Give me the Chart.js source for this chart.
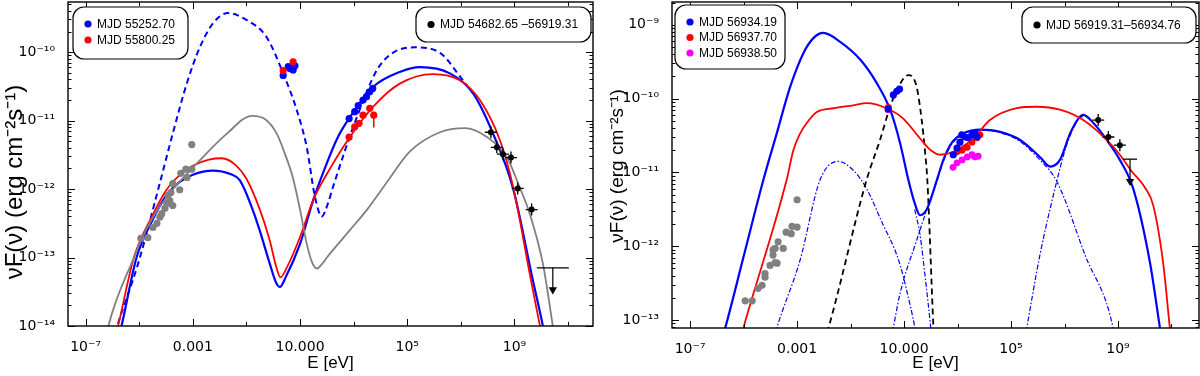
<!DOCTYPE html>
<html>
<head>
<meta charset="utf-8">
<script src="https://cdn.jsdelivr.net/npm/chart.js@4.4.1/dist/chart.umd.min.js"></script>
<style>
  body { margin: 0; background: #fff; }
  .panel { position: absolute; top: 0; width: 600px; height: 376px; }
</style>
</head>
<body>
<div class="panel" style="left:0"><canvas id="sedLeft" width="600" height="376"></canvas></div>
<div class="panel" style="left:600px"><canvas id="sedRight" width="600" height="376"></canvas></div>
<script>
// Chart defaults
Chart.defaults.font.family = "'Liberation Sans', Arial, Helvetica, sans-serif";
Chart.defaults.color = '#000';

// ---- axis ticks ----
const xTickVals = [1e-7, 1e-3, 10, 1e5, 1e9];
const xTickText = ['10⁻⁷', '0.001', '10.000', '10⁵', '10⁹'];
const yTickValsL = [1e-14, 1e-13, 1e-12, 1e-11, 1e-10];
const yTickTextL = ['10⁻¹⁴', '10⁻¹³', '10⁻¹²', '10⁻¹¹', '10⁻¹⁰'];
const yTickValsR = [1e-13, 1e-12, 1e-11, 1e-10, 1e-9];
const yTickTextR = ['10⁻¹³', '10⁻¹²', '10⁻¹¹', '10⁻¹⁰', '10⁻⁹'];

// ---- left panel: [log10 E/eV, log10 vF(v)] ----
const blueModelL = [[-5.85,-14.3],[-5.66,-14.0],[-5.1,-13.0],[-4.5,-12.45],[-4.0,-12.1],[-3.5,-11.9],[-3.0,-11.79],[-2.25,-11.73],[-1.6,-11.78],[-1.25,-11.87],[-0.76,-12.31],[-0.5,-12.61],[-0.13,-13.09],[0.1,-13.36],[0.25,-13.43],[0.45,-13.3],[1.0,-12.8],[1.5,-12.15],[2.0,-11.62],[2.4,-11.25],[2.86,-10.95],[3.72,-10.51],[4.72,-10.29],[5.47,-10.22],[6.59,-10.31],[7.45,-10.6],[8.2,-11.19],[8.94,-11.98],[9.69,-13.34],[10.06,-14.0],[10.2,-14.3]];
const redModelL = [[-6.0,-14.3],[-5.79,-14.0],[-5.2,-13.0],[-4.5,-12.38],[-4.0,-12.02],[-3.5,-11.8],[-3.0,-11.66],[-2.4,-11.57],[-1.92,-11.55],[-1.4,-11.65],[-1.0,-11.85],[-0.5,-12.3],[-0.13,-12.75],[0.1,-13.12],[0.27,-13.29],[0.5,-13.15],[1.0,-12.7],[1.5,-12.15],[2.0,-11.78],[2.86,-11.24],[3.72,-10.8],[4.72,-10.46],[5.96,-10.32],[6.96,-10.41],[7.71,-10.7],[8.46,-11.29],[8.94,-11.95],[9.6,-13.3],[9.95,-14.0],[10.1,-14.3]];
const grayModelL = [[-6.3,-14.3],[-6.15,-14.0],[-5.2,-13.0],[-4.9,-12.72],[-4.5,-12.42],[-4.0,-12.13],[-3.6,-11.94],[-2.74,-11.58],[-1.73,-11.19],[-0.8,-10.93],[-0.3,-10.98],[0.13,-11.19],[0.45,-11.5],[0.73,-11.83],[1.0,-12.3],[1.25,-12.8],[1.45,-13.07],[1.63,-13.16],[1.85,-13.08],[2.0,-13.0],[2.86,-12.6],[3.5,-12.3],[4.24,-11.9],[5.1,-11.45],[6.22,-11.17],[7.15,-11.11],[7.97,-11.24],[8.72,-11.54],[9.2,-11.98],[9.57,-12.36],[10.06,-13.09],[10.43,-14.0],[10.55,-14.3]];
const blueDashL = [[-6.0,-14.25],[-5.82,-14.0],[-5.05,-13.1],[-4.29,-12.0],[-3.75,-11.19],[-3.22,-10.45],[-2.74,-9.93],[-2.25,-9.58],[-1.69,-9.43],[-1.0,-9.53],[-0.25,-9.78],[0.37,-10.31],[0.88,-10.85],[1.25,-11.39],[1.55,-12.1],[1.81,-12.4],[2.05,-12.2],[2.22,-11.98],[3.12,-10.95],[3.87,-10.26],[4.46,-10.01],[5.28,-9.93],[6.22,-10.01],[7.07,-10.41],[7.45,-10.6]];

const grayPtsL = [[-4.94,-12.72],[-4.68,-12.71],[-4.49,-12.56],[-4.34,-12.5],[-4.23,-12.41],[-4.16,-12.36],[-4.04,-12.28],[-3.97,-12.21],[-3.86,-12.17],[-3.75,-12.24],[-3.93,-12.09],[-3.82,-12.05],[-3.75,-11.92],[-3.49,-12.01],[-3.45,-11.77],[-3.26,-11.71],[-3.22,-11.83],[-3.04,-11.71],[-3.04,-11.35]];
const bluePtsL = [[0.37,-10.34],[0.56,-10.21],[0.62,-10.24],[0.74,-10.26],[0.81,-10.2],[2.83,-10.97],[3.04,-10.87],[3.17,-10.78],[3.35,-10.7],[3.48,-10.65],[3.6,-10.58],[3.71,-10.53]];
const redPtsL = [[0.37,-10.27],[0.74,-10.14],[2.83,-11.24],[3.04,-11.09],[3.2,-11.04],[3.35,-10.92],[3.6,-10.82],[3.75,-10.92]];
const redErrL = [[3.75,-10.92],[3.75,-11.1]];
const blackPtsL = [[8.12,-11.17],[8.34,-11.39],[8.57,-11.49],[8.87,-11.54],[9.12,-11.99],[9.64,-12.3]];
const upperLimL = [[10.43,-13.15]];
const arrowL = [[10.43,-13.15],[10.43,-13.47]];

// ---- right panel ----
const blueModelR = [[-5.85,-13.3],[-5.69,-13.11],[-5.0,-12.14],[-4.26,-11.1],[-3.76,-10.47],[-3.26,-9.84],[-2.76,-9.38],[-2.39,-9.18],[-2.02,-9.11],[-1.39,-9.23],[-0.64,-9.47],[-0.02,-9.79],[0.48,-10.15],[0.85,-10.6],[1.16,-11.1],[1.4,-11.42],[1.6,-11.58],[1.85,-11.5],[2.23,-11.1],[2.47,-10.83],[2.78,-10.6],[3.22,-10.47],[3.84,-10.42],[4.59,-10.45],[5.34,-10.56],[6.08,-10.79],[6.46,-10.92],[6.83,-10.83],[7.21,-10.47],[7.52,-10.27],[7.7,-10.22],[8.08,-10.33],[8.58,-10.56],[9.07,-10.83],[9.57,-11.22],[10.2,-12.23],[10.57,-13.11],[10.65,-13.3]];
const redModelR = [[-5.15,-13.3],[-5.01,-13.11],[-3.39,-11.1],[-3.14,-10.7],[-2.9,-10.48],[-2.64,-10.33],[-2.26,-10.18],[-1.64,-10.13],[-0.9,-10.09],[-0.39,-10.06],[0.35,-10.13],[0.97,-10.27],[1.6,-10.54],[2.0,-10.7],[2.35,-10.76],[2.84,-10.72],[3.59,-10.54],[4.21,-10.29],[5.21,-10.13],[5.96,-10.11],[6.83,-10.15],[7.7,-10.29],[8.58,-10.56],[9.07,-10.76],[9.5,-10.98],[10.0,-11.2],[10.32,-11.45],[10.69,-12.23],[10.94,-13.11],[11.0,-13.3]];
const blackDashR = [[-2.0,-13.3],[-1.83,-13.11],[-0.4,-11.1],[0.1,-10.56],[0.48,-10.11],[0.79,-9.84],[1.16,-9.68],[1.47,-9.84],[1.66,-10.29],[1.79,-10.74],[1.87,-11.1],[2.1,-13.11],[2.13,-13.3]];
const synTailR = [[1.4,-11.5],[1.6,-11.85],[1.8,-12.45],[2.0,-13.11],[2.05,-13.3]];
const bumpR = [[-3.9,-13.3],[-3.76,-13.11],[-2.89,-12.19],[-2.14,-11.1],[-1.46,-10.85],[-0.9,-10.97],[-0.4,-11.22],[0.23,-11.72],[0.6,-12.0],[0.85,-12.25],[1.1,-12.6],[1.41,-13.11],[1.5,-13.3]];
const sscR = [[0.5,-13.3],[0.85,-12.64],[1.47,-11.92],[2.0,-11.35],[2.23,-11.12],[2.47,-10.85],[2.78,-10.62],[3.22,-10.48],[3.84,-10.43],[4.59,-10.46],[5.34,-10.58],[6.08,-10.83],[6.71,-11.12],[7.77,-12.12],[8.82,-13.11],[8.9,-13.3]];
const ecR = [[5.5,-13.3],[5.59,-13.11],[6.08,-12.12],[6.71,-11.12],[7.0,-10.72],[7.21,-10.5],[7.52,-10.28],[7.7,-10.23]];

const grayPtsR = [[-4.94,-12.74],[-4.68,-12.74],[-4.46,-12.57],[-4.31,-12.53],[-4.2,-12.42],[-4.2,-12.37],[-4.01,-12.26],[-3.75,-12.23],[-3.82,-12.22],[-3.9,-12.12],[-3.9,-12.05],[-3.82,-12.03],[-3.71,-11.94],[-3.52,-12.03],[-3.41,-11.81],[-3.22,-11.83],[-3.19,-11.73],[-3.0,-11.74],[-3.0,-11.37]];
const bluePtsR = [[0.41,-10.14],[0.6,-9.95],[0.73,-9.9],[0.83,-9.87],[2.84,-10.76],[2.98,-10.67],[3.09,-10.59],[3.16,-10.49],[3.28,-10.52],[3.39,-10.53],[3.54,-10.49],[3.65,-10.47],[3.73,-10.52]];
const redPtsR = [[0.41,-10.12],[2.98,-10.72],[3.17,-10.7],[3.36,-10.66],[3.54,-10.59],[3.73,-10.53],[3.84,-10.49]];
const magPtsR = [[0.4,-10.15],[2.83,-10.93],[2.98,-10.87],[3.17,-10.83],[3.36,-10.79],[3.54,-10.76],[3.65,-10.79],[3.77,-10.78]];
const blackPtsR = [[8.26,-10.29],[8.64,-10.52],[9.07,-10.63]];
const upperLimR = [[9.45,-10.82]];
const arrowR = [[9.45,-10.82],[9.45,-11.12]];

// legends
const legendLeft = [
  { x: 73, y: 7, w: 115, h: 52, rows: [['#0000ff', 'MJD 55252.70'], ['#ff0000', 'MJD 55800.25']] },
  { x: 416, y: 7, w: 175, h: 35, rows: [['#000000', 'MJD 54682.65 –56919.31']] }
];
const legendRight = [
  { x: 75, y: 5, w: 110, h: 64, rows: [['#0000ff', 'MJD 56934.19'], ['#ff0000', 'MJD 56937.70'], ['#ff00ff', 'MJD 56938.50']] },
  { x: 422, y: 7, w: 174, h: 36, rows: [['#000000', 'MJD 56919.31–56934.76']] }
];

const yTitle = 'νF(ν) (erg cm⁻²s⁻¹)';

const toXY = arr => arr.map(([e, f]) => ({ x: 10 ** e, y: 10 ** f }));

function curve(data, color, width, dash) {
  return {
    data: toXY(data), showLine: true, borderColor: color, borderWidth: width,
    borderDash: dash || [], pointRadius: 0, tension: 0.4,
    cubicInterpolationMode: 'monotone', clip: 0, order: 2
  };
}

function dots(data, color, r, style, rot) {
  return {
    data: toXY(data), backgroundColor: color, borderColor: color,
    pointRadius: r, pointHoverRadius: r, borderWidth: style ? 1.3 : 0,
    pointStyle: style || 'circle', rotation: rot || 0, order: 0
  };
}

function segment(data, color, width) {
  return { data: toXY(data), showLine: true, borderColor: color, borderWidth: width, pointRadius: 0, order: 1 };
}

// frame, inner ticks, y title and legend boxes
const sedDecor = {
  id: 'sedDecor',
  afterDraw(chart, args, o) {
    const { ctx, chartArea: a } = chart;
    const xs = chart.scales.x, ys = chart.scales.y;
    ctx.save();
    ctx.strokeStyle = '#000';
    ctx.lineWidth = 1;
    for (let p = -7; p <= 11; p += 2) {
      const px = Math.round(xs.getPixelForValue(Math.pow(10, p))) + 0.5;
      const len = (p + 7) % 4 === 0 ? 7 : 4;
      ctx.beginPath();
      ctx.moveTo(px, a.bottom); ctx.lineTo(px, a.bottom - len);
      ctx.moveTo(px, a.top); ctx.lineTo(px, a.top + len);
      ctx.stroke();
    }
    for (let d = -15; d <= -8; d++) {
      for (let k = 1; k < 10; k++) {
        const v = k * Math.pow(10, d);
        if (v < ys.min || v > ys.max) continue;
        const py = Math.round(ys.getPixelForValue(v)) + 0.5;
        const len = k === 1 ? 7 : 3.5;
        ctx.beginPath();
        ctx.moveTo(a.left, py); ctx.lineTo(a.left + len, py);
        ctx.moveTo(a.right, py); ctx.lineTo(a.right - len, py);
        ctx.stroke();
      }
    }
    ctx.lineWidth = 1.4;
    ctx.strokeRect(a.left, a.top, a.right - a.left, a.bottom - a.top);

    // y axis title
    ctx.save();
    ctx.translate(o.titleX, o.titleY);
    ctx.rotate(-Math.PI / 2);
    ctx.font = o.titleSize + "px 'Liberation Sans', Arial, sans-serif";
    ctx.fillStyle = '#000';
    ctx.textAlign = 'center';
    ctx.textBaseline = 'middle';
    ctx.fillText(yTitle, 0, 0);
    ctx.restore();

    // legend boxes
    o.boxes.forEach(b => {
      ctx.beginPath();
      ctx.roundRect(b.x, b.y, b.w, b.h, 11);
      ctx.fillStyle = '#fff';
      ctx.fill();
      ctx.lineWidth = 1.2;
      ctx.strokeStyle = '#000';
      ctx.stroke();
      b.rows.forEach(([c, t], i) => {
        const cy = b.y + (b.rows.length === 1 ? b.h / 2 : 17 + i * o.rowGap);
        ctx.beginPath();
        ctx.arc(b.x + 15, cy, 3.6, 0, Math.PI * 2);
        ctx.fillStyle = c;
        ctx.fill();
        ctx.fillStyle = '#000';
        ctx.font = "12px 'Liberation Sans', Arial, sans-serif";
        ctx.textBaseline = 'middle';
        ctx.textAlign = 'left';
        ctx.fillText(t, b.x + 24, cy + 0.5);
      });
    });
    ctx.restore();
  }
};

function options(p) {
  const tickFont = { family: "'DejaVu Sans', sans-serif", size: 14 };
  return {
    responsive: false,
    animation: false,
    events: [],
    layout: { autoPadding: false, padding: { top: 2, right: p.padRight, left: 0, bottom: 0 } },
    plugins: {
      legend: { display: false },
      tooltip: { enabled: false },
      sedDecor: { boxes: p.boxes, titleX: p.titleX, titleY: p.titleY, titleSize: p.titleSize, rowGap: p.rowGap }
    },
    scales: {
      x: {
        type: 'logarithmic', min: p.xMin, max: p.xMax,
        grid: { display: false }, border: { display: false },
        afterBuildTicks: s => { s.ticks = xTickVals.map(v => ({ value: v })); },
        afterFit: s => { s.height = p.xAxisH; s.paddingLeft = 0; s.paddingRight = 0; },
        ticks: { font: tickFont, padding: 5, maxRotation: 0, autoSkip: false, callback: (v, i) => xTickText[i] },
        title: { display: true, text: 'E [eV]', font: { size: 17 }, padding: { top: 0, bottom: 2 } }
      },
      y: {
        type: 'logarithmic', min: p.yMin, max: p.yMax,
        grid: { display: false }, border: { display: false },
        afterBuildTicks: s => { s.ticks = p.yTicks.map(v => ({ value: v })); },
        afterFit: s => { s.width = p.yAxisW; s.paddingTop = 0; s.paddingBottom = 0; },
        ticks: { font: tickFont, padding: 5, autoSkip: false, callback: (v, i) => p.yText[i] }
      }
    }
  };
}

new Chart(document.getElementById('sedLeft'), {
  type: 'scatter',
  data: {
    datasets: [
      dots(grayPtsL, '#808080', 3.6),
      dots(redPtsL, '#ff0000', 3.6),
      dots(bluePtsL, '#0000ff', 3.6),
      dots(blackPtsL, '#000000', 3),
      dots(blackPtsL, '#000000', 6, 'cross'),
      dots(upperLimL, '#000000', 16, 'line'),
      dots([arrowL[1]], '#000000', 3.5, 'triangle', 180),
      segment(arrowL, '#000000', 1.2),
      segment(redErrL, '#ff0000', 1.5),
      curve(grayModelL, '#808080', 1.8),
      curve(redModelL, '#ff0000', 1.8),
      curve(blueModelL, '#0000ff', 2.2),
      curve(blueDashL, '#0000ff', 2, [6, 4])
    ]
  },
  options: options({
    xMin: 2.2e-8, xMax: 8.5e11, yMin: 1e-14, yMax: 5.4e-10,
    yTicks: yTickValsL, yText: yTickTextL, yAxisW: 68, xAxisH: 50, padRight: 7,
    boxes: legendLeft, titleX: 15, titleY: 182, titleSize: 24, rowGap: 16
  }),
  plugins: [sedDecor]
});

new Chart(document.getElementById('sedRight'), {
  type: 'scatter',
  data: {
    datasets: [
      dots(grayPtsR, '#808080', 3.6),
      dots(bluePtsR, '#0000ff', 3.6),
      dots(redPtsR, '#ff0000', 3.4),
      dots(magPtsR, '#ff00ff', 3.4),
      dots(blackPtsR, '#000000', 3),
      dots(blackPtsR, '#000000', 6, 'cross'),
      dots(upperLimR, '#000000', 7, 'line'),
      dots([arrowR[1]], '#000000', 3.5, 'triangle', 180),
      segment(arrowR, '#000000', 1.2),
      curve(redModelR, '#ff0000', 1.8),
      curve(blueModelR, '#0000ff', 2.2),
      curve(blackDashR, '#000000', 1.8, [6, 4]),
      curve(bumpR, '#0000ff', 1.2, [5, 2, 1.5, 2]),
      curve(synTailR, '#0000ff', 1.2, [5, 2, 1.5, 2]),
      curve(sscR, '#0000ff', 1.2, [5, 2, 1.5, 2]),
      curve(ecR, '#0000ff', 1.2, [5, 2, 1.5, 2])
    ]
  },
  options: options({
    xMin: 2.1e-8, xMax: 1.07e12, yMin: 7.8e-14, yMax: 2.04e-9,
    yTicks: yTickValsR, yText: yTickTextR, yAxisW: 72, xAxisH: 48, padRight: 1,
    boxes: legendRight, titleX: 18, titleY: 166, titleSize: 19, rowGap: 15.5
  }),
  plugins: [sedDecor]
});
</script>
</body>
</html>
